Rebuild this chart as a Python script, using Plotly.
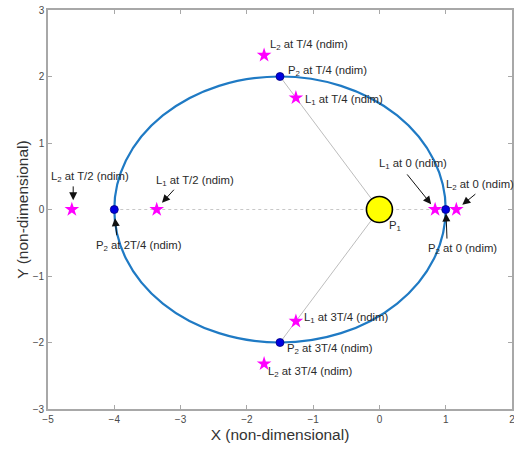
import plotly.graph_objects as go

# ---------------- data ----------------
time_tags = ["0", "T/4", "2T/4", "3T/4"]
p1_x = [0.0]
p1_y = [0.0]
p2_x = [1.0, -1.5, -4.0, -1.5]
p2_y = [0.0, 2.0, 0.0, -2.0]
l1_x = [0.84, -1.26, -3.36, -1.26]
l1_y = [0.0, 1.68, 0.0, -1.68]
l2_x = [1.16, -1.74, -4.64, -1.74]
l2_y = [0.0, 2.32, 0.0, -2.32]
# P2 orbit (ellipse): centre and semi-axes
orbit_cx = -1.5
orbit_cy = 0.0
orbit_a = 2.5
orbit_b = 2.0
x_ticks = [-5, -4, -3, -2, -1, 0, 1, 2]
y_ticks = [-3, -2, -1, 0, 1, 2, 3]

# ---------------- figure ----------------
fig = go.Figure()

# guide lines P1 -> P2
fig.add_trace(go.Scatter(x=[p1_x[0], p2_x[1]], y=[p1_y[0], p2_y[1]], mode="lines",
                         line=dict(color="#bdbdbd", width=1), hoverinfo="skip", showlegend=False))
fig.add_trace(go.Scatter(x=[p1_x[0], p2_x[3]], y=[p1_y[0], p2_y[3]], mode="lines",
                         line=dict(color="#bdbdbd", width=1), hoverinfo="skip", showlegend=False))
fig.add_trace(go.Scatter(x=[p2_x[2], p2_x[0]], y=[p2_y[2], p2_y[0]], mode="lines",
                         line=dict(color="#c8c8c8", width=1, dash="dot"), hoverinfo="skip", showlegend=False))

# orbit ellipse
fig.add_shape(type="circle", xref="x", yref="y",
              x0=orbit_cx - orbit_a, x1=orbit_cx + orbit_a,
              y0=orbit_cy - orbit_b, y1=orbit_cy + orbit_b,
              line=dict(color="#1f7ac4", width=2.2), layer="below")

# P1
fig.add_trace(go.Scatter(x=p1_x, y=p1_y, mode="markers",
                         marker=dict(size=26, color="#ffff00", line=dict(color="black", width=1.6)),
                         showlegend=False))
# L1, L2 stars
fig.add_trace(go.Scatter(x=l1_x, y=l1_y, mode="markers",
                         marker=dict(symbol="star", size=11, color="#ff00ff", line=dict(width=0)),
                         showlegend=False))
fig.add_trace(go.Scatter(x=l2_x, y=l2_y, mode="markers",
                         marker=dict(symbol="star", size=11, color="#ff00ff", line=dict(width=0)),
                         showlegend=False))
# P2
fig.add_trace(go.Scatter(x=p2_x, y=p2_y, mode="markers",
                         marker=dict(size=8, color="#0000e0", line=dict(color="#000080", width=0.8)),
                         showlegend=False))

# ---------------- labels ----------------
TXT = dict(family="Liberation Sans, Arial, sans-serif", size=11.3, color="#2a2a2a")

def lab(name, sub, tag):
    return f"{name}<sub>{sub}</sub> at {tag} (ndim)"

labels = [
    (lab("L", 2, time_tags[1]), -1.68, 2.47),
    (lab("P", 2, time_tags[1]), -1.41, 2.09),
    (lab("L", 1, time_tags[1]), -1.15, 1.65),
    (lab("L", 1, time_tags[3]), -1.17, -1.63),
    (lab("P", 2, time_tags[3]), -1.42, -2.10),
    (lab("L", 2, time_tags[3]), -1.71, -2.45),
    ("P<sub>1</sub>", 0.11, -0.25),
    (lab("L", 1, time_tags[0]), -0.04, 0.68),
    (lab("L", 2, time_tags[0]), 0.975, 0.37),
    (lab("P", 2, time_tags[0]), 0.71, -0.60),
    (lab("L", 1, "T/2"), -3.40, 0.43),
    (lab("L", 2, "T/2"), -4.99, 0.49),
    (lab("P", 2, time_tags[2]), -4.31, -0.55),
]
for t, x, y in labels:
    fig.add_annotation(x=x, y=y, text=t, showarrow=False, xanchor="left", yanchor="middle",
                       font=TXT)

# arrows: (tail_x, tail_y, head_x, head_y)
arrows = [
    (0.40, 0.55, 0.78, 0.08),
    (1.47, 0.25, 1.25, 0.07),
    (1.02, -0.46, 1.005, -0.06),
    (-3.08, 0.32, -3.28, 0.10),
    (-4.62, 0.37, -4.62, 0.14),
    (-3.96, -0.41, -3.99, -0.13),
]
for tx, ty, hx, hy in arrows:
    fig.add_annotation(x=hx, y=hy, ax=tx, ay=ty, xref="x", yref="y", axref="x", ayref="y",
                       text="", showarrow=True, arrowhead=2, arrowsize=1.6, arrowwidth=1,
                       arrowcolor="#111111")

AX = dict(showline=True, linecolor="#a8a8a8", linewidth=1.6, mirror="ticks",
          ticks="inside", ticklen=4, tickcolor="#a8a8a8", tickwidth=1,
          showgrid=False, zeroline=False, automargin=False, ticklabeloverflow="allow",
          tickfont=dict(family="Liberation Sans, Arial, sans-serif", size=10, color="#4a4a4a"),
          title_font=dict(family="Liberation Sans, Arial, sans-serif", size=15.5, color="#333333"))

fig.update_layout(
    width=514, height=450,
    margin=dict(l=48, r=2, t=10, b=41),
    paper_bgcolor="white", plot_bgcolor="white",
    xaxis=dict(range=[-5, 2], tickvals=x_ticks, title=dict(text="X (non-dimensional)", standoff=5), **AX),
    yaxis=dict(range=[-3, 3], tickvals=y_ticks, title=dict(text="Y (non-dimensional)", standoff=0), **AX),
)

fig.write_html("out.html", config={"displayModeBar": False},
               post_script="document.body.style.margin='0';")
